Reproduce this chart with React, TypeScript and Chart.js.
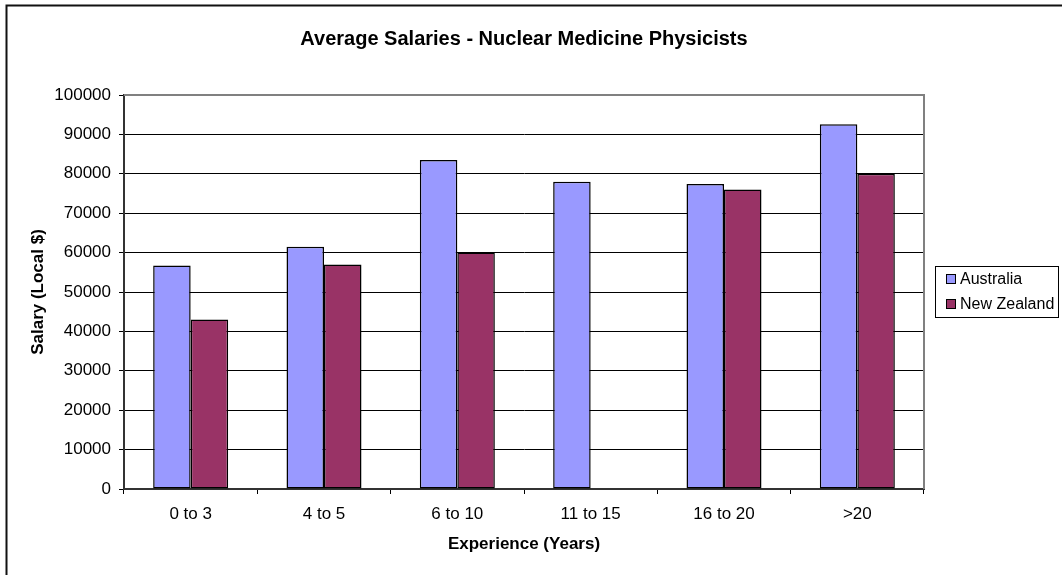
import React, { useEffect, useRef } from "react";
import { Chart, registerables } from "chart.js";

Chart.register(...registerables);

const categories = ["0 to 3", "4 to 5", "6 to 10", "11 to 15", "16 to 20", ">20"];
const australia = [56700, 61500, 83500, 78000, 77400, 92600];
const newZealand = [43000, 57000, 60000, null, 76000, 80000];
const seriesNames = ["Australia", "New Zealand"];
const chartTitle = "Average Salaries - Nuclear Medicine Physicists";
const yTitle = "Salary (Local $)";
const xTitle = "Experience (Years)";
const yMin = 0;
const yMax = 100000;
const yStep = 10000;

const FONT = "'Liberation Sans', Arial, sans-serif";

const decorPlugin = {
  id: "decor",
  afterDraw(chart: any) {
    const ctx = chart.ctx;
    const a = chart.chartArea;
    ctx.save();
    // outer chart border
    ctx.strokeStyle = "#111";
    ctx.lineWidth = 2;
    ctx.strokeRect(6.5, 5.5, 1100, 600);
    // plot area top/right border
    ctx.strokeStyle = "#808080";
    ctx.lineWidth = 2;
    ctx.beginPath();
    ctx.moveTo(a.left, a.top);
    ctx.lineTo(a.right, a.top);
    ctx.lineTo(a.right, a.bottom);
    ctx.stroke();
    // title
    ctx.fillStyle = "#000";
    ctx.font = `bold 20px ${FONT}`;
    ctx.textAlign = "center";
    ctx.textBaseline = "alphabetic";
    ctx.fillText(chartTitle, 524, 45);
    // legend
    const lx = 935, ly = 266, lw = 123, lh = 51;
    ctx.strokeStyle = "#000";
    ctx.lineWidth = 1;
    ctx.strokeRect(lx + 0.5, ly + 0.5, lw, lh);
    ctx.font = `16px ${FONT}`;
    ctx.textAlign = "left";
    ctx.textBaseline = "middle";
    chart.data.datasets.forEach((ds: any, i: number) => {
      const cy = ly + 13 + i * 25;
      ctx.fillStyle = ds.backgroundColor;
      ctx.fillRect(946, cy - 5, 10, 10);
      ctx.strokeStyle = "#000";
      ctx.strokeRect(946.5, cy - 4.5, 9, 9);
      ctx.fillStyle = "#000";
      ctx.fillText(ds.label, 960, cy + 1);
    });
    ctx.restore();
  },
};

export default function App() {
  const ref = useRef<HTMLCanvasElement | null>(null);
  useEffect(() => {
    if (!ref.current) return;
    const chart = new Chart(ref.current, {
      type: "bar",
      data: {
        labels: categories,
        datasets: [
          {
            label: seriesNames[0],
            data: australia,
            backgroundColor: "#9999FF",
            borderColor: "#000",
            borderWidth: 1.5,
            borderSkipped: false,
          },
          {
            label: seriesNames[1],
            data: newZealand,
            backgroundColor: "#993366",
            borderColor: "#000",
            borderWidth: 1.5,
            borderSkipped: false,
          },
        ],
      },
      options: {
        responsive: false,
        animation: false,
        layout: { padding: { left: 0, right: 138, top: 95, bottom: 0 } },
        plugins: {
          legend: { display: false },
          title: { display: false },
          tooltip: { enabled: false },
        },
        datasets: { bar: { categoryPercentage: 0.5625, barPercentage: 1 } },
        scales: {
          x: {
            grid: {
              display: true,
              drawOnChartArea: false,
              drawTicks: true,
              tickLength: 5,
              color: "#000",
              offset: true,
            },
            border: { display: true, color: "#333", width: 2 },
            ticks: { color: "#000", font: { family: FONT, size: 17 }, padding: 10 },
            title: {
              display: true,
              text: xTitle,
              color: "#000",
              font: { family: FONT, size: 17, weight: "bold" },
              padding: { top: 0, bottom: 20 },
            },
            afterFit(scale: any) {
              scale.height = 86;
            },
          },
          y: {
            min: yMin,
            max: yMax,
            grid: { color: "#000", lineWidth: 1, tickLength: 5, drawTicks: true },
            border: { display: true, color: "#333", width: 2 },
            ticks: {
              stepSize: yStep,
              color: "#000",
              font: { family: FONT, size: 17 },
              padding: 8,
              callback: (v: any) => String(v),
            },
            title: {
              display: true,
              text: yTitle,
              color: "#000",
              font: { family: FONT, size: 17, weight: "bold" },
              padding: { top: 28, bottom: 0 },
            },
            afterFit(scale: any) {
              scale.width = 124;
            },
          },
        },
      },
      plugins: [decorPlugin],
    } as any);
    return () => chart.destroy();
  }, []);
  return (
    <div style={{ position: "absolute", left: 0, top: 0, width: 1062, height: 575, background: "#fff" }}>
      <canvas ref={ref} width={1062} height={575} />
    </div>
  );
}
